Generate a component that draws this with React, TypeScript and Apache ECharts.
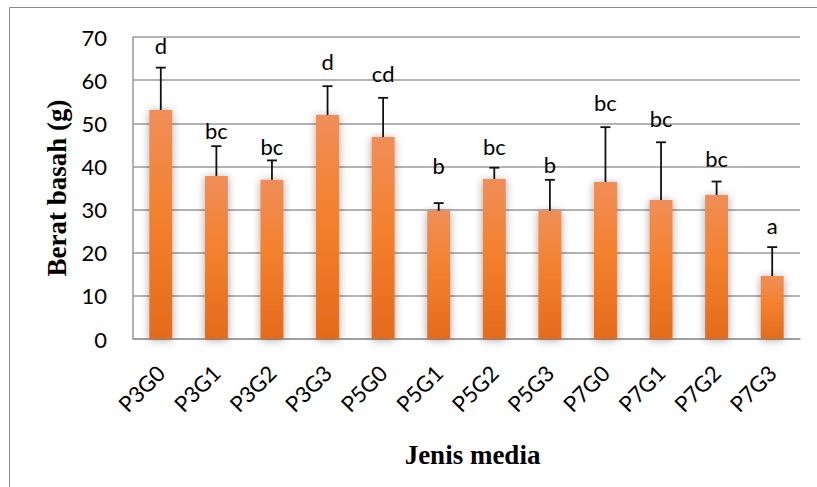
import React, { useEffect, useRef } from "react";
import * as echarts from "echarts";

const categories = ["P3G0", "P3G1", "P3G2", "P3G3", "P5G0", "P5G1", "P5G2", "P5G3", "P7G0", "P7G1", "P7G2", "P7G3"];
const means = [53.1, 37.8, 36.9, 51.9, 46.8, 29.7, 37.1, 29.7, 36.4, 32.2, 33.4, 14.6];
const errorTop = [62.9, 44.7, 41.4, 58.6, 55.9, 31.5, 39.7, 36.9, 49.1, 45.6, 36.5, 21.3];
const letters = ["d", "bc", "bc", "d", "cd", "b", "bc", "b", "bc", "bc", "bc", "a"];
const letterBaseline = [66.3, 46.6, 43.1, 62.6, 60.0, 38.7, 43.1, 38.9, 53.3, 49.6, 40.1, 24.6];
const yTicks = { min: 0, max: 70, interval: 10 };

export default function App() {
  const ref = useRef<HTMLDivElement>(null);
  useEffect(() => {
    if (!ref.current) return;
    const chart = echarts.init(ref.current, null, { renderer: "svg" });
    const gridColor = "#9a9a9a";
    chart.setOption({
      animation: false,
      backgroundColor: "#ffffff",
      graphic: [
        {
          type: "rect",
          shape: { x: 9.5, y: 7.5, width: 830, height: 500 },
          style: { fill: "none", stroke: "#8c8c8c", lineWidth: 1 },
          silent: true,
          z: -10,
        },
      ],
      grid: { left: 133, right: 17, top: 37, bottom: 148 },
      xAxis: {
        type: "category",
        data: categories,
        name: "Jenis media",
        nameLocation: "middle",
        nameGap: 102,
        nameTextStyle: { fontFamily: "Liberation Serif", fontWeight: "bold", fontSize: 27, color: "#000", padding: [0, 0, 0, 12] },
        axisLine: { show: true, lineStyle: { color: gridColor, width: 1.5 } },
        axisTick: { show: false },
        axisLabel: { show: true, rotate: 45, margin: 30, fontFamily: "Lato", fontSize: 22, color: "#000", hideOverlap: false },
      },
      yAxis: {
        type: "value",
        min: yTicks.min,
        max: yTicks.max,
        interval: yTicks.interval,
        name: "Berat basah (g)",
        nameLocation: "middle",
        nameGap: 61,
        nameRotate: 90,
        nameTextStyle: { fontFamily: "Liberation Serif", fontWeight: "bold", fontSize: 27, color: "#000" },
        axisLine: { show: true, lineStyle: { color: gridColor, width: 1.5 } },
        axisTick: { show: false },
        axisLabel: { margin: 26, fontFamily: "Lato", fontSize: 22, color: "#000" },
        splitLine: { show: true, lineStyle: { color: gridColor, width: 1.5 } },
      },
      series: [
        {
          type: "bar",
          data: means,
          barWidth: 23,
          itemStyle: {
            color: new echarts.graphic.LinearGradient(0, 0, 0, 1, [
              { offset: 0, color: "#F08E58" },
              { offset: 0.45, color: "#F4812E" },
              { offset: 1, color: "#E46B1C" },
            ]),
            shadowBlur: 8,
            shadowColor: "rgba(0,0,0,0.35)",
            shadowOffsetX: 0,
            shadowOffsetY: 1,
          },
          z: 2,
        },
        {
          type: "custom",
          data: means.map((m, i) => [i, m, errorTop[i]]),
          z: 3,
          renderItem: (params: any, api: any) => {
            const i = api.value(0);
            const low = api.coord([i, api.value(1)]);
            const high = api.coord([i, api.value(2)]);
            const cap = 5;
            return {
              type: "group",
              children: [
                { type: "line", shape: { x1: low[0], y1: low[1], x2: high[0], y2: high[1] }, style: { stroke: "#111", lineWidth: 1.8 } },
                { type: "line", shape: { x1: high[0] - cap, y1: high[1], x2: high[0] + cap, y2: high[1] }, style: { stroke: "#111", lineWidth: 1.8 } },
              ],
            };
          },
        },
        {
          type: "custom",
          data: letterBaseline.map((v, i) => [i, v]),
          z: 4,
          renderItem: (params: any, api: any) => {
            const i = api.value(0);
            const p = api.coord([i, api.value(1)]);
            return {
              type: "text",
              x: p[0],
              y: p[1] + 4,
              style: {
                text: letters[params.dataIndex],
                fill: "#000",
                font: "22px Lato",
                align: "center",
                verticalAlign: "bottom",
              },
            };
          },
        },
      ],
    });
    return () => chart.dispose();
  }, []);
  return <div ref={ref} style={{ position: "fixed", left: 0, top: 0, width: 817, height: 487 }} />;
}
